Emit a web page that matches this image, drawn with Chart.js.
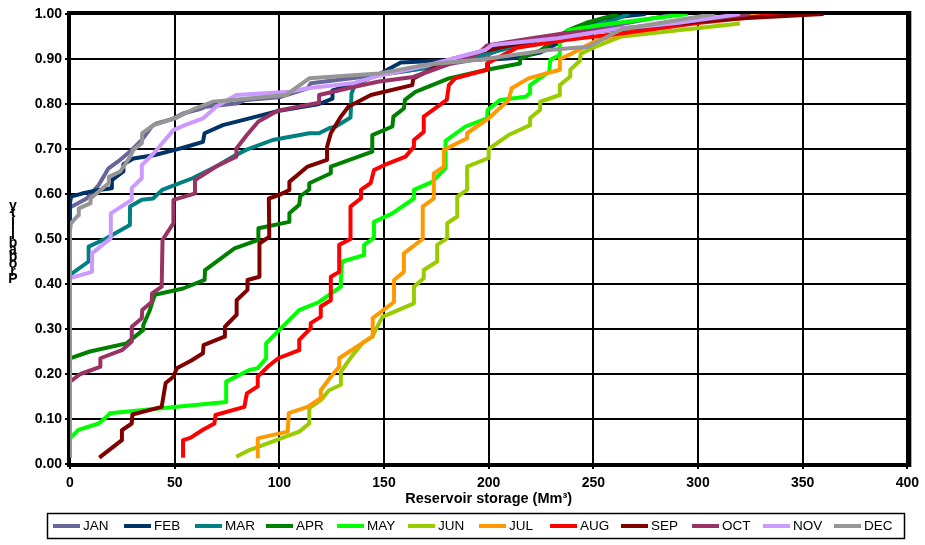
<!DOCTYPE html>
<html>
<head>
<meta charset="utf-8">
<script src="https://cdn.jsdelivr.net/npm/chart.js@4.4.0/dist/chart.umd.min.js"></script>
<style>
  html, body { margin: 0; padding: 0; background: #fff; }
</style>
</head>
<body>
<canvas id="chart" width="925" height="545"></canvas>
<script>
// months and colours of the series
const months = ['JAN', 'FEB', 'MAR', 'APR', 'MAY', 'JUN', 'JUL', 'AUG', 'SEP', 'OCT', 'NOV', 'DEC'];
const colors = ['#666699', '#003366', '#008080', '#008000', '#00FF00', '#99CC00',
                '#FF9900', '#FF0000', '#800000', '#993366', '#CC99FF', '#969696'];

// [storage Mm3, probability]
const JAN = [[0,0.015],[0,0.57],[8,0.59],[13.7,0.62],[18.4,0.657],[24,0.676],[29.5,0.698],[34.3,0.72],[39,0.75],[41.3,0.757],[48.6,0.766],[54,0.779],[62.9,0.79],[65,0.794],[79.4,0.801],[84,0.809],[100,0.815],[113.5,0.835],[115,0.846],[150,0.866],[170,0.88],[195,0.9],[205,0.92],[230,0.95],[260,0.975],[290,1.0]];
const FEB = [[0,0.015],[0,0.58],[0.5,0.594],[5.7,0.601],[13.7,0.609],[20,0.613],[20,0.631],[25.5,0.65],[25.5,0.666],[30.3,0.679],[40,0.686],[50.2,0.698],[55.6,0.705],[63.5,0.716],[64.3,0.735],[73,0.753],[85.7,0.768],[100,0.785],[119,0.8],[125.4,0.812],[125.4,0.83],[137,0.845],[149.2,0.87],[158,0.892],[184,0.898],[205,0.9],[214,0.903],[225,0.915],[235,0.94],[242,0.97],[255,0.99],[275,1.0]];
const MAR = [[0,0.015],[0,0.42],[8.9,0.45],[8.9,0.483],[16.8,0.5],[28.6,0.531],[28.7,0.572],[34.3,0.587],[39.7,0.59],[44,0.609],[58.5,0.635],[69.8,0.661],[79.4,0.687],[84.1,0.698],[96.8,0.72],[114.3,0.735],[119,0.735],[123.8,0.746],[127,0.75],[134,0.77],[134.5,0.824],[136.5,0.846],[146,0.864],[170,0.88],[206,0.92],[230,0.95],[249,0.973],[260,0.987],[267,1.0]];
const APR = [[0,0.015],[0,0.235],[9.5,0.25],[27,0.268],[35,0.298],[35,0.309],[38,0.34],[40.5,0.376],[54,0.39],[64.3,0.409],[64.5,0.431],[78.6,0.479],[90,0.498],[90,0.524],[104.8,0.538],[104.8,0.557],[109.5,0.576],[110,0.595],[114.3,0.61],[114.3,0.624],[124.6,0.646],[124.6,0.661],[144.4,0.694],[144.4,0.731],[154,0.75],[154.5,0.772],[159.5,0.79],[160,0.809],[165,0.827],[181,0.857],[199.2,0.876],[215,0.89],[215,0.9],[225,0.92],[238,0.964],[247.6,0.982],[262,1.0]];
const MAY = [[0,0.015],[0,0.057],[4,0.076],[13.7,0.09],[18.4,0.109],[19,0.113],[74.6,0.138],[74.6,0.183],[85.7,0.209],[89.7,0.213],[93.7,0.235],[93.7,0.268],[100,0.298],[109.5,0.342],[119,0.36],[129.4,0.394],[129.4,0.413],[130,0.45],[140.5,0.464],[140.5,0.487],[145,0.502],[145.2,0.538],[154,0.557],[164.3,0.59],[164.3,0.609],[173,0.627],[179.4,0.657],[179.4,0.718],[188.9,0.75],[199.2,0.768],[199.5,0.787],[205.6,0.809],[217.5,0.816],[219.8,0.824],[219.8,0.842],[229,0.872],[229.4,0.898],[234,0.909],[234,0.935],[238,0.964],[254,0.976],[295,1.0]];
const JUN = [[79.4,0.016],[85.7,0.031],[109.5,0.072],[114.3,0.09],[114.3,0.124],[119.8,0.142],[123.8,0.164],[129.4,0.176],[129.4,0.205],[135,0.242],[140,0.27],[144.4,0.283],[149.2,0.327],[164.3,0.357],[164.3,0.394],[169,0.413],[169,0.431],[175.4,0.45],[175.4,0.487],[180.2,0.502],[180.2,0.535],[185,0.55],[185,0.594],[189.7,0.609],[189.7,0.661],[200,0.68],[200,0.7],[209.5,0.731],[219.8,0.753],[219.8,0.769],[224.6,0.787],[224.6,0.805],[234,0.82],[234,0.842],[239,0.861],[239,0.876],[243.6,0.896],[244,0.912],[250.8,0.927],[263.5,0.95],[320,0.979]];
const JUL = [[89.7,0.013],[89.7,0.057],[104,0.072],[104.5,0.113],[113.5,0.127],[119.8,0.146],[119.8,0.164],[124.6,0.194],[128.6,0.216],[128.6,0.235],[144.4,0.283],[144.6,0.324],[154.8,0.36],[154.8,0.409],[159.5,0.427],[159.5,0.468],[168.5,0.5],[168.5,0.572],[173.8,0.59],[173.8,0.646],[178.6,0.661],[178.6,0.698],[189.7,0.724],[189.7,0.735],[200,0.768],[209.5,0.809],[211,0.835],[219,0.857],[234,0.876],[234,0.9],[239.7,0.912],[251,0.94],[262,0.953],[290,0.975],[330,1.0]];
const AUG = [[54,0.014],[54,0.053],[57.5,0.058],[63.5,0.076],[69,0.09],[69.5,0.109],[83.3,0.127],[84.5,0.157],[89.5,0.172],[89.7,0.194],[94.4,0.216],[99.5,0.235],[109.5,0.253],[109.5,0.276],[115,0.302],[115,0.313],[119.8,0.327],[119.8,0.35],[124.6,0.364],[124.6,0.416],[128.6,0.427],[128.6,0.487],[134,0.5],[134,0.572],[138.9,0.59],[139,0.609],[143.6,0.624],[145.2,0.653],[150,0.664],[160.3,0.683],[164.3,0.705],[164.3,0.72],[169,0.738],[169,0.772],[180,0.809],[181,0.842],[184,0.857],[199,0.876],[199.2,0.89],[213.5,0.925],[236.5,0.942],[260,0.955],[300,0.98],[340,1.0]];
const SEP = [[14,0.014],[24.8,0.053],[24.8,0.075],[29.5,0.09],[29.8,0.11],[43.8,0.127],[45.7,0.18],[49.4,0.194],[51,0.213],[58,0.23],[63.5,0.246],[63.8,0.264],[73.8,0.283],[74,0.305],[79.4,0.331],[79.6,0.364],[84.8,0.387],[84.8,0.409],[90.5,0.416],[90.5,0.49],[95.2,0.505],[95,0.59],[100,0.598],[104.8,0.609],[104.8,0.627],[113.5,0.661],[122.8,0.676],[122.8,0.705],[124.6,0.735],[129.4,0.772],[133,0.794],[143.7,0.82],[163.5,0.842],[164,0.857],[182.5,0.9],[195,0.915],[215,0.935],[240,0.955],[280,0.975],[319,0.99],[360,1.0]];
const OCT = [[0,0.015],[0,0.183],[5,0.2],[14.4,0.216],[14.5,0.235],[24.8,0.253],[29.5,0.272],[29.5,0.305],[34.3,0.324],[34.5,0.342],[39,0.36],[39.2,0.379],[43.8,0.394],[44.2,0.498],[49.4,0.535],[49.4,0.587],[59.5,0.601],[59.7,0.631],[69.8,0.661],[79.4,0.683],[79.5,0.701],[84.5,0.731],[90,0.761],[99.2,0.785],[119,0.803],[119,0.82],[136.5,0.839],[147.6,0.85],[164,0.86],[195,0.912],[199.2,0.93],[220.6,0.946],[236.5,0.957],[280,0.975],[325,1.0]];
const NOV = [[0,0.015],[0,0.413],[10.5,0.427],[10.5,0.468],[19.5,0.502],[19.5,0.557],[29.5,0.587],[29.5,0.613],[34.3,0.635],[34.3,0.664],[39.9,0.69],[49.4,0.742],[54.9,0.753],[63.5,0.768],[69.8,0.794],[79.4,0.82],[104.8,0.827],[113.5,0.835],[135,0.846],[146,0.861],[170,0.885],[198.4,0.92],[201.6,0.931],[233,0.946],[260,0.966],[290,0.98],[320,1.0]];
const DEC = [[0,0.015],[0,0.52],[0.5,0.535],[4,0.553],[4.2,0.568],[9.7,0.579],[9.8,0.59],[18.4,0.624],[18.6,0.638],[24,0.65],[28.7,0.683],[30.3,0.698],[34.3,0.713],[34.5,0.735],[39.9,0.753],[50.2,0.768],[59.7,0.79],[68.2,0.805],[103.2,0.82],[114.3,0.857],[147.6,0.868],[169.8,0.887],[198.4,0.9],[228.6,0.92],[247.6,0.927],[263.5,0.966],[308,1.0]];

const series = [JAN, FEB, MAR, APR, MAY, JUN, JUL, AUG, SEP, OCT, NOV, DEC];

const FONT = "'Liberation Sans', Arial, sans-serif";

// frame, vertical y title and boxed legend, drawn like the original
const extras = {
  id: 'extras',
  beforeDatasetsDraw(chart) {
    const { ctx, chartArea: a } = chart;
    ctx.save();
    ctx.strokeStyle = '#000';
    ctx.lineWidth = 3;
    ctx.strokeRect(a.left - 1.5, a.top - 1.5, a.right - a.left + 3, a.bottom - a.top + 3);
    // right edge is heavier in the original
    ctx.lineWidth = 2;
    ctx.beginPath();
    ctx.moveTo(a.right + 3, a.top - 3);
    ctx.lineTo(a.right + 3, a.bottom + 3);
    ctx.stroke();
    ctx.restore();
  },
  afterDraw(chart) {
    const { ctx } = chart;
    ctx.save();

    // y title: upright letters stacked bottom to top
    ctx.fillStyle = '#000';
    ctx.font = 'bold 14px ' + FONT;
    ctx.textAlign = 'center';
    ctx.textBaseline = 'alphabetic';
    const word = 'Probability';
    for (let i = 0; i < word.length; i++) {
      ctx.fillText(word[i], 13, 283 - i * 7.3);
    }

    // legend box
    ctx.strokeStyle = '#000';
    ctx.lineWidth = 1.5;
    ctx.strokeRect(47.5, 513.5, 857, 25);
    ctx.font = '13.5px ' + FONT;
    ctx.textAlign = 'left';
    ctx.textBaseline = 'middle';
    months.forEach((m, i) => {
      const x0 = 53 + i * 71;
      ctx.strokeStyle = colors[i];
      ctx.lineWidth = 4;
      ctx.beginPath();
      ctx.moveTo(x0, 526);
      ctx.lineTo(x0 + 27, 526);
      ctx.stroke();
      ctx.fillStyle = '#000';
      ctx.fillText(m, x0 + 30, 526.5);
    });
    ctx.restore();
  }
};

new Chart(document.getElementById('chart'), {
  type: 'scatter',
  data: {
    datasets: series.map((pts, i) => ({
      label: months[i],
      data: pts.map(([x, y]) => ({ x, y })),
      borderColor: colors[i],
      backgroundColor: colors[i],
      borderWidth: 4,
      borderJoinStyle: 'round',
      pointRadius: 0,
      showLine: true,
      fill: false,
      tension: 0,
      order: 12 - i
    }))
  },
  options: {
    responsive: false,
    animation: false,
    layout: { padding: { left: 0, right: 15, top: 14, bottom: 36 } },
    plugins: {
      legend: { display: false },
      tooltip: { enabled: false }
    },
    scales: {
      x: {
        type: 'linear',
        min: 0,
        max: 400,
        afterFit: s => { s.height = 45; },
        ticks: { stepSize: 50, padding: 6, color: '#000', font: { family: FONT, size: 14, weight: 'bold' } },
        grid: { color: '#000', lineWidth: 2, tickLength: 5, tickColor: '#000' },
        border: { display: false },
        title: {
          display: true,
          text: 'Reservoir storage (Mm³)',
          color: '#000',
          padding: { top: 0, bottom: 1 },
          font: { family: FONT, size: 14.5, weight: 'bold' }
        }
      },
      y: {
        min: 0,
        max: 1,
        afterFit: s => { s.width = 70; },
        ticks: {
          stepSize: 0.1,
          padding: 3,
          color: '#000',
          font: { family: FONT, size: 14, weight: 'bold' },
          callback: v => v.toFixed(2)
        },
        grid: { color: '#000', lineWidth: 2, tickLength: 5, tickColor: '#000' },
        border: { display: false }
      }
    }
  },
  plugins: [extras]
});
</script>
</body>
</html>
